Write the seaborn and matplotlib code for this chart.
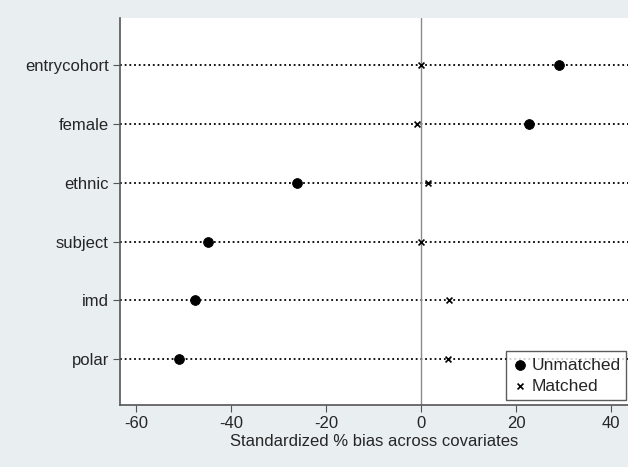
import pandas as pd
import seaborn as sns
import matplotlib.pyplot as plt

covariates = ["entrycohort", "female", "ethnic", "subject", "imd", "polar"]
unmatched = [28.9, 22.6, -26.2, -44.9, -47.6, -50.9]
matched = [0.0, -1.0, 1.5, 0.0, 5.9, 5.7]

df = pd.DataFrame({
    "covariate": covariates * 2,
    "bias": unmatched + matched,
    "sample": ["Unmatched"] * 6 + ["Matched"] * 6,
})
df["pos"] = df["covariate"].map({c: i for i, c in enumerate(covariates)})

sns.set_style("white")
plt.rcParams["font.family"] = ["Liberation Sans", "DejaVu Sans"]
plt.rcParams["axes.unicode_minus"] = False

fig = plt.figure(figsize=(6.28, 4.67), dpi=100, facecolor="#e9eff1")
ax = fig.add_axes([0.191, 0.133, 0.809, 0.828])
ax.set_facecolor("white")

for i in range(len(covariates)):
    ax.axhline(i, color="black", ls=(0, (1, 1.6)), lw=1.3, zorder=1)
ax.axvline(0, color="#8a8a8a", lw=1, zorder=1)

sns.scatterplot(data=df[df["sample"] == "Unmatched"], x="bias", y="pos", ax=ax,
                marker="o", s=50, color="black", edgecolor="black", label="Unmatched", zorder=3)
sns.scatterplot(data=df[df["sample"] == "Matched"], x="bias", y="pos", ax=ax,
                marker="x", s=18, color="black", linewidth=1.2, label="Matched", zorder=3)

ax.set_xlim(-63.4, 43.5)
ax.set_ylim(5.78, -0.8)
ax.set_yticks(range(len(covariates)))
ax.set_yticklabels(covariates)
ax.set_xticks([-60, -40, -20, 0, 20, 40])
ax.set_xlabel("Standardized % bias across covariates", fontsize=12, labelpad=2)
ax.set_ylabel("")
ax.tick_params(axis="both", labelsize=12, length=5, width=0.8, color="#555555",
               direction="out", bottom=True, left=True, pad=3)

for s in ["top", "right"]:
    ax.spines[s].set_visible(False)
for s in ["left", "bottom"]:
    ax.spines[s].set_color("#555555")
    ax.spines[s].set_linewidth(1.2)

leg = ax.legend(loc="lower right", bbox_to_anchor=(0.997, 0.013), borderaxespad=0,
                fontsize=12.5, frameon=True, fancybox=False, edgecolor="#333333",
                handletextpad=0.2, handlelength=0.9, borderpad=0.35, labelspacing=0.35)
leg.get_frame().set_linewidth(1.0)

fig.savefig("out.png", dpi=100, facecolor=fig.get_facecolor())
